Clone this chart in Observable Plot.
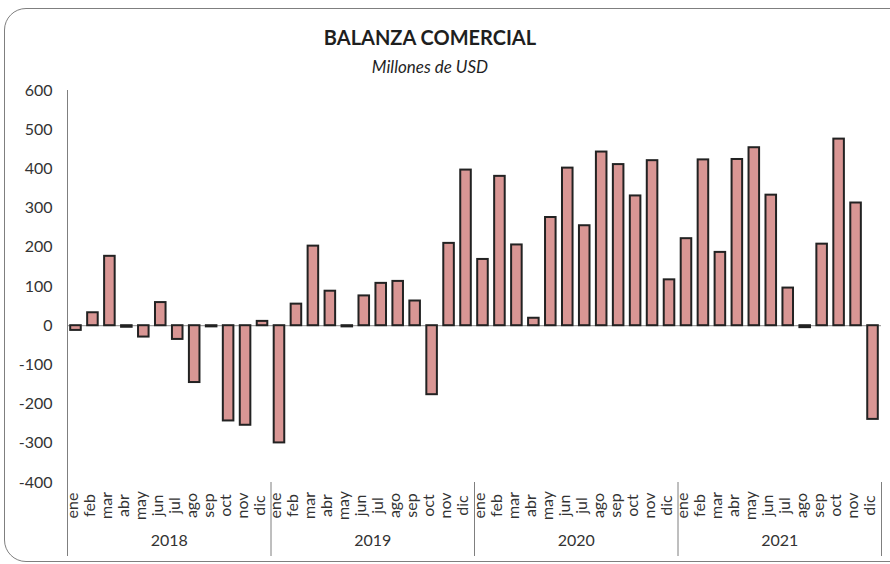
<!DOCTYPE html>
<html>
<head>
<meta charset="utf-8">
<script src="https://cdn.jsdelivr.net/npm/d3@7"></script>
<script src="https://cdn.jsdelivr.net/npm/@observablehq/plot@0.6"></script>
<style>
  body { margin: 0; background: #fff; }
  #wrap { position: relative; width: 890px; height: 564px; overflow: hidden; font-family: Lato, sans-serif; color: #333; }
  #frame { position: absolute; left: 4px; top: 8px; width: 910px; height: 554px; border: 1.3px solid #7f7f7f; border-radius: 22px; box-sizing: border-box; }
  #title { position: absolute; left: 0; top: 27px; width: 860px; text-align: center; font-weight: bold; font-size: 20px; line-height: 20px; color: #1f1f1f; }
  #subtitle { position: absolute; left: 0; top: 58px; width: 860px; text-align: center; font-style: italic; font-size: 17px; line-height: 17px; color: #1f1f1f; }
  #chart { position: absolute; left: 0; top: 0; }
</style>
</head>
<body>
<div id="wrap">
  <div id="frame"></div>
  <div id="chart"></div>
  <div id="title">BALANZA COMERCIAL</div>
  <div id="subtitle">Millones de USD</div>
</div>
<script>
const years = ["2018", "2019", "2020", "2021"];
const months = ["ene", "feb", "mar", "abr", "may", "jun", "jul", "ago", "sep", "oct", "nov", "dic"];
const values2018 = [-12, 33, 177, -4, -29, 59, -35, -145, -3, -243, -254, 11];
const values2019 = [-299, 55, 203, 88, -3, 76, 108, 113, 63, -176, 210, 397];
const values2020 = [169, 381, 206, 19, 276, 402, 255, 443, 411, 331, 421, 117];
const values2021 = [222, 423, 187, 424, 454, 333, 96, -5, 208, 476, 313, -239];
const yTicks = [-400, -300, -200, -100, 0, 100, 200, 300, 400, 500, 600];

const series = [values2018, values2019, values2020, values2021];
const rows = [];
years.forEach((yr, yi) => {
  months.forEach((m, mi) => {
    rows.push({ year: yr, month: m, value: series[yi][mi], i: yi * months.length + mi });
  });
});
const yearRows = years.map((yr, yi) => ({ year: yr, start: yi * months.length, end: (yi + 1) * months.length }));

const font = "Lato, sans-serif";
const chart = Plot.plot({
  width: 890,
  height: 564,
  marginTop: 90,
  marginBottom: 82,
  marginLeft: 67,
  marginRight: 9,
  style: { fontFamily: font, fontSize: "16px", color: "#333", background: "transparent", overflow: "visible" },
  x: { type: "linear", domain: [0, rows.length], axis: null },
  y: { domain: [-400, 600], ticks: yTicks, tickSize: 0, tickPadding: 15, label: null, tickFormat: d => String(d) },
  marks: [
    Plot.ruleY([0], { stroke: "#8c8c8c", strokeWidth: 1 }),
    Plot.rect(rows, {
      x1: "i",
      x2: d => d.i + 1,
      y1: () => 0,
      y2: "value",
      insetLeft: 3.2,
      insetRight: 3.2,
      fill: "#D99694",
      stroke: "#222",
      strokeWidth: 2
    }),
    Plot.ruleX(yearRows.slice(0, 1), { x: "start", stroke: "#7f7f7f", strokeWidth: 1, insetBottom: -74 }),
    Plot.ruleX(yearRows, { x: "end", stroke: "#7f7f7f", strokeWidth: 1, insetTop: 392, insetBottom: -74 }),
    Plot.text(rows, {
      x: d => d.i + 0.5,
      text: "month",
      frameAnchor: "bottom",
      rotate: -90,
      dy: 23,
      dx: 2,
      fontSize: 16,
      fill: "#333"
    }),
    Plot.text(yearRows, {
      x: d => (d.start + d.end) / 2,
      text: "year",
      frameAnchor: "bottom",
      dy: 63,
      fontSize: 16,
      fill: "#333"
    })
  ]
});
document.getElementById("chart").appendChild(chart);
</script>
</body>
</html>
